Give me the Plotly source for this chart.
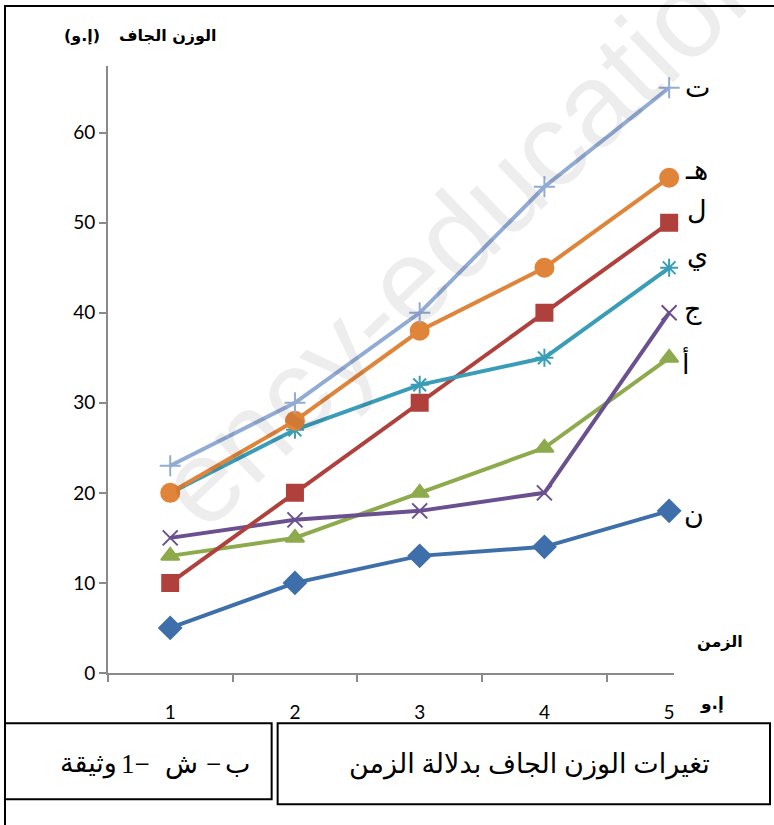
import plotly.graph_objects as go

W, H = 774, 825

# ---- data ----
times = [1, 2, 3, 4, 5]
series_names = ["ن", "أ", "ج", "ل", "ي", "هـ", "ت"]
values_n = [5, 10, 13, 14, 18]
values_a = [13, 15, 20, 25, 35]
values_j = [15, 17, 18, 20, 40]
values_l = [10, 20, 30, 40, 50]
values_y = [20, 27, 32, 35, 45]
values_h = [20, 28, 38, 45, 55]
values_t = [23, 30, 40, 54, 65]
y_ticks = [0, 10, 20, 30, 40, 50, 60]
x_ticklabels = ["1", "2", "3", "4", "5"]

series = [
    (values_n, "#3F6FAA", "diamond", 17),
    (values_a, "#8DAA4C", "triangle-up", 16),
    (values_j, "#6B5090", "x-thin-open", 15),
    (values_l, "#B0403C", "square", 16),
    (values_y, "#3A9DB8", "asterisk-open", 15),
    (values_h, "#E0843A", "circle", 18),
    (values_t, "#92ABD5", "cross-thin-open", 15),
]

def px(x):
    return x / W

def py(y):
    return 1 - y / H

fig = go.Figure()
for (vals, col, sym, sz), name in zip(series, series_names):
    fig.add_trace(go.Scatter(
        x=times, y=vals, mode="lines+markers", name=name,
        line=dict(color=col, width=4),
        marker=dict(symbol=sym, size=sz, color=col,
                    line=dict(color=col, width=2)),
        showlegend=False, cliponaxis=False,
    ))

axis_col = "#8a8a8a"
fig.update_layout(
    width=W, height=H, autosize=False,
    margin=dict(l=0, r=0, t=0, b=0),
    paper_bgcolor="white", plot_bgcolor="white",
    xaxis=dict(
        domain=[px(108), px(675)], range=[0.5, 5.04],
        tickvals=times, ticktext=x_ticklabels, ticks="",
        showgrid=False, zeroline=False,
        showline=True, linecolor=axis_col, linewidth=1.5,
        tickfont=dict(family="Lato", size=19, color="black"),
        ticklabelstandoff=22,
        minor=dict(tickvals=[0.5, 1.5, 2.5, 3.5, 4.5], ticks="outside",
                   ticklen=7, tickcolor=axis_col, tickwidth=1.5),
    ),
    yaxis=dict(
        domain=[py(682), py(67)], range=[0, 67.4],
        tickvals=y_ticks, ticks="outside", ticklen=7,
        tickcolor=axis_col, tickwidth=1.5,
        showgrid=False, zeroline=False,
        showline=True, linecolor=axis_col, linewidth=1.5,
        tickfont=dict(family="Lato", size=19, color="black"),
    ),
)

shapes = [
    dict(type="rect", x0=px(5), x1=px(790), y0=py(6), y1=py(840)),
    dict(type="rect", x0=px(5), x1=px(272), y0=py(733), y1=py(810)),
    dict(type="rect", x0=px(278), x1=px(771), y0=py(733), y1=py(815)),
]
for s in shapes:
    s.update(xref="paper", yref="paper", line=dict(color="black", width=2))
fig.update_layout(shapes=shapes)

ann = []
# watermark
ann.append(dict(x=px(465), y=py(230), text="ency-education", xanchor="center",
                textangle=-44, font=dict(family="Liberation Sans", size=118,
                                         color="rgba(0,0,0,0.07)")))
bold_ar = dict(family="DejaVu Sans", size=16, color="black")
# y-axis title (pieces placed in visual order)
ann.append(dict(x=px(219), y=py(36), text="<b>الوزن الجاف</b>", xanchor="right", font=bold_ar))
ann.append(dict(x=px(62), y=py(36), text="<b>(إ.و)</b>", xanchor="left", font=bold_ar))
# x-axis title pieces
ann.append(dict(x=px(721), y=py(650), text="<b>الزمن</b>", xanchor="center", font=bold_ar))
ann.append(dict(x=px(713), y=py(713), text="<b>إ.و</b>", xanchor="center",
                font=dict(family="DejaVu Sans", size=17, color="black")))
# series labels at line ends
serif = dict(family="DejaVu Serif, DejaVu Sans", size=27, color="black")
label_pos = [(683, 521), (681, 368), (683, 313), (686, 213), (686, 258), (684, 172), (684, 89)]
for name, (lx, ly) in zip(series_names, label_pos):
    ann.append(dict(x=px(lx), y=py(ly), text=name, xanchor="left", font=serif))
# caption box 1 pieces (visual order left to right)
box_font = dict(family="Liberation Serif, DejaVu Sans", size=27, color="black")
ann.append(dict(x=px(119), y=py(774), text="وثيقة", xanchor="right", font=box_font))
ann.append(dict(x=px(119), y=py(774), text="1−", xanchor="left", font=box_font))
ann.append(dict(x=px(182), y=py(774), text="ش", xanchor="center", font=box_font))
ann.append(dict(x=px(214), y=py(774), text="−", xanchor="center", font=box_font))
ann.append(dict(x=px(238), y=py(774), text="ب", xanchor="center", font=box_font))
# caption box 2
ann.append(dict(x=px(530), y=py(775), text="تغيرات الوزن الجاف بدلالة الزمن",
                xanchor="center", font=box_font))
for a in ann:
    a.update(xref="paper", yref="paper", yanchor="middle", showarrow=False)
fig.update_layout(annotations=ann)

fig.write_html(
    "out.html",
    config={"displayModeBar": False},
    post_script="document.body.style.margin='0';"
                "document.documentElement.style.overflow='hidden';"
                "document.body.style.overflow='hidden';",
)
